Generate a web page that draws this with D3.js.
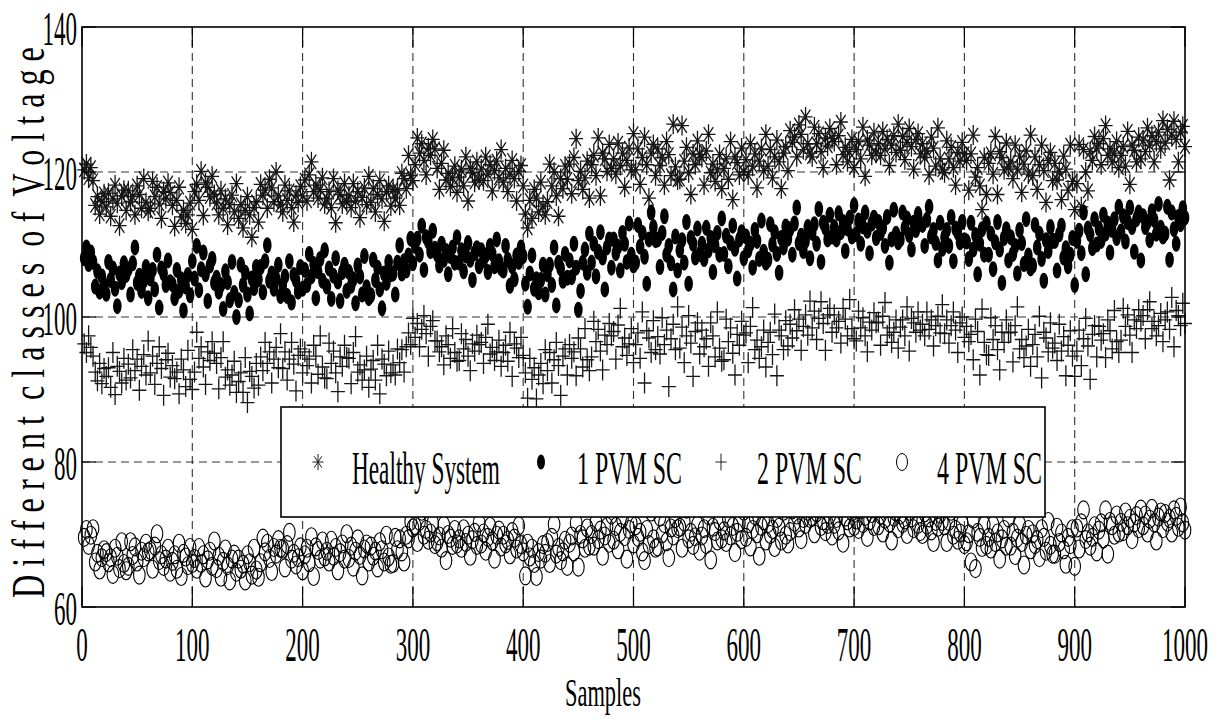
<!DOCTYPE html>
<html>
<head>
<meta charset="utf-8">
<script src="https://cdn.jsdelivr.net/npm/d3@7"></script>
<style>
  html, body { margin: 0; padding: 0; background: #fff; }
  text { font-family: "Liberation Serif", "Times New Roman", serif; fill: #000; }
</style>
</head>
<body>
<script>
// Voltage class per recorded sample (every second sample, 2..1000)
const healthySystem = [
120.3,121.1,119.2,120.6,118.8,115.4,116.6,114.2,115.9,117.0,
115.2,117.1,113.9,116.3,118.2,115.7,112.6,116.7,117.5,114.7,
117.4,115.9,116.6,114.1,118.1,116.9,115.0,119.1,115.8,114.6,
115.0,118.7,116.6,117.9,115.6,113.6,117.3,116.3,118.5,117.2,
115.4,112.5,116.1,117.9,113.8,114.7,112.9,114.1,115.7,112.1,
117.3,118.3,116.1,120.1,114.0,118.5,117.9,116.6,119.4,116.9,
115.7,114.1,117.4,115.0,116.3,112.7,115.5,116.8,114.5,118.4,
113.6,115.5,112.3,114.7,116.6,114.1,111.0,115.1,115.9,113.1,
118.3,116.8,117.5,115.0,119.0,117.8,115.9,120.0,116.7,115.5,
114.5,118.2,116.1,117.4,115.1,113.1,116.8,115.8,118.0,116.7,
118.9,116.0,119.6,121.4,117.3,118.2,116.4,117.6,119.2,115.6,
116.3,117.3,115.1,119.1,113.0,117.5,116.9,115.6,118.4,115.9,
116.7,115.1,118.4,116.0,117.3,113.7,116.5,117.8,115.5,119.4,
115.8,117.7,114.5,116.9,118.8,116.3,113.2,117.3,118.1,115.3,
117.6,116.4,117.5,115.4,119.8,119.1,117.7,122.3,119.5,118.8,
121.0,124.7,122.6,123.9,121.6,119.6,123.3,122.3,124.5,123.2,
120.5,117.6,121.2,123.0,118.9,119.8,118.0,119.2,120.8,117.2,
119.3,120.3,118.1,122.1,116.0,120.5,119.9,118.6,121.4,118.9,
120.4,118.8,122.1,119.7,121.0,117.4,120.2,121.5,119.2,123.1,
118.6,120.5,117.3,119.7,121.6,119.1,116.0,120.1,120.9,118.1,
114.2,112.3,116.1,113.6,117.6,116.4,114.5,118.6,115.3,114.1,
115.9,121.1,118.1,120.0,116.7,113.9,119.1,117.7,120.8,119.0,
121.1,117.0,122.0,124.6,118.8,120.1,117.6,119.2,121.5,116.4,
121.0,122.3,119.5,124.7,116.7,122.6,121.8,120.1,123.8,120.5,
121.8,119.7,124.0,120.9,122.6,117.9,121.6,123.3,120.3,125.3,
120.3,123.2,118.3,122.0,124.8,121.0,116.4,122.6,123.8,119.5,
123.2,120.9,122.0,118.2,124.2,122.4,119.5,126.6,120.7,118.9,
119.0,126.4,121.5,123.4,119.9,116.9,122.5,121.0,124.3,122.4,
122.0,118.2,122.9,125.2,119.9,121.1,118.7,120.3,122.4,117.7,
120.5,121.8,119.0,124.2,116.2,122.1,121.3,119.6,123.3,120.0,
121.7,119.6,123.9,120.8,122.5,117.8,121.5,123.2,120.2,125.2,
120.8,123.1,119.2,122.1,124.4,121.4,117.7,122.6,123.5,120.2,
125.7,124.1,124.8,122.1,126.5,125.2,123.1,127.6,123.9,122.6,
122.1,126.2,123.9,125.3,122.8,120.6,124.7,123.6,126.0,124.6,
124.2,121.0,125.0,126.9,122.4,123.4,121.4,122.8,124.5,120.6,
123.1,124.2,121.8,126.2,119.4,124.4,123.7,122.3,125.4,122.6,
123.9,122.3,125.6,123.2,124.5,120.9,123.7,125.0,122.7,126.6,
123.0,124.9,121.7,124.1,126.0,123.5,120.4,124.5,125.3,122.5,
123.9,122.0,122.9,119.6,124.8,123.3,120.8,126.1,121.8,120.3,
119.9,124.3,121.8,123.4,120.6,118.2,122.7,121.5,124.1,122.5,
121.6,117.5,122.5,125.1,119.3,120.6,118.1,114.8,122.0,116.9,
121.2,122.5,119.7,124.9,116.9,122.8,122.0,120.3,124.0,120.7,
121.4,119.1,123.7,120.4,122.2,117.2,121.1,122.9,119.7,125.1,
119.5,122.1,117.6,121.0,123.7,120.2,115.8,121.6,122.7,118.8,
121.2,118.9,120.0,116.2,122.2,120.4,117.5,123.7,118.7,114.8,
118.4,123.8,115.2,123.1,120.0,117.4,122.8,121.6,124.9,123.3,
123.9,121.0,124.6,126.4,122.3,123.2,121.4,122.6,124.2,120.6,
122.3,123.5,120.8,125.6,118.3,123.7,123.0,121.4,124.8,121.8,
124.4,122.8,126.1,123.7,125.0,121.4,124.2,125.5,123.2,127.1,
124.0,125.9,118.9,125.1,127.0,124.5,121.4,125.5,126.3,123.5
];

const onePvmSc = [
108.1,109.6,107.3,108.9,107.6,104.2,106.3,103.5,105.6,104.4,
103.2,107.6,105.1,106.7,103.9,101.5,106.0,104.8,107.4,105.8,
106.6,103.1,107.4,109.6,104.7,105.7,103.6,105.0,106.9,102.6,
105.3,106.5,103.8,108.6,101.3,106.7,106.0,104.4,107.8,104.8,
104.5,102.6,106.5,103.6,105.2,100.9,104.2,105.8,103.0,107.7,
105.3,109.8,103.7,106.6,108.9,105.9,102.2,107.1,108.0,104.7,
105.4,103.5,104.4,101.1,106.3,104.8,102.3,107.6,103.3,100.0,
102.3,107.2,104.4,106.1,103.1,100.5,105.3,104.0,106.9,105.2,
106.9,103.4,107.7,109.9,105.0,106.0,103.9,105.3,107.2,102.9,
104.4,105.6,102.9,107.7,102.0,105.8,105.1,103.5,106.9,103.9,
106.5,104.4,108.7,105.6,107.3,102.6,106.3,108.0,105.0,109.2,
104.2,106.7,102.5,105.7,108.1,104.9,102.2,106.2,107.2,103.6,
106.2,104.3,105.2,101.9,107.1,105.6,103.1,108.4,104.1,102.6,
103.0,107.9,105.1,106.8,103.8,101.2,106.0,104.7,107.6,105.9,
106.0,103.1,107.5,109.9,106.0,107.7,106.4,108.5,110.8,107.4,
109.8,110.8,108.6,112.6,106.5,111.0,110.4,109.1,111.9,109.4,
108.6,107.1,110.1,107.9,109.1,105.9,108.4,109.6,107.5,111.0,
107.5,109.2,106.3,108.5,110.2,107.9,105.1,108.8,109.5,107.0,
109.2,107.8,108.5,106.2,109.8,108.7,107.0,110.7,107.7,106.7,
106.4,109.8,107.9,104.3,107.0,105.2,108.5,107.6,109.6,108.4,
104.6,101.4,106.0,108.5,103.9,105.2,103.4,105.1,107.2,103.1,
105.9,107.2,104.4,109.6,101.6,107.5,106.7,105.0,108.7,105.4,
107.8,105.5,110.1,106.8,101.0,103.6,107.5,109.3,106.1,111.5,
107.5,110.1,105.6,109.0,111.7,108.2,103.8,109.6,110.7,106.8,
110.7,108.8,109.7,106.4,111.6,110.1,107.6,112.9,108.6,107.1,
107.5,112.7,109.7,111.6,108.3,104.6,110.7,114.4,112.4,110.6,
110.7,106.9,111.6,113.9,108.6,109.8,107.4,103.8,111.1,106.4,
109.2,110.6,107.5,113.1,104.6,110.9,110.1,108.2,112.2,108.7,
110.1,108.0,112.3,109.2,110.9,106.2,109.9,111.6,108.6,113.6,
108.7,111.2,107.0,110.2,112.6,109.4,105.3,110.7,111.7,108.1,
111.1,109.2,110.1,106.8,112.0,110.5,108.0,113.3,109.0,107.5,
107.9,112.8,110.0,111.7,108.7,106.1,110.9,109.6,112.5,110.8,
112.1,108.6,112.9,115.1,110.2,111.2,109.1,110.5,112.4,108.1,
111.6,112.8,110.1,114.9,107.6,113.0,112.3,110.7,114.1,111.1,
112.4,110.7,114.3,111.7,113.1,109.1,112.2,113.7,111.1,115.4,
111.4,113.3,110.1,112.5,114.4,111.9,108.8,112.9,113.7,110.9,
113.1,111.6,112.3,109.8,113.8,107.5,110.7,114.8,111.5,110.3,
110.7,114.4,112.3,113.6,111.3,109.3,113.0,112.0,114.2,112.9,
112.7,109.8,113.4,115.2,111.1,112.0,110.2,107.8,113.0,109.4,
111.0,112.0,109.8,113.8,107.7,112.2,111.6,110.3,113.1,110.6,
110.4,108.0,113.0,109.3,111.3,105.9,110.1,112.1,108.6,112.9,
108.6,111.5,106.6,110.3,113.1,109.3,104.7,110.9,112.1,107.8,
111.0,108.7,109.8,106.0,112.0,110.2,107.3,113.5,108.5,106.7,
107.1,112.7,109.6,111.5,108.0,105.0,110.6,109.1,112.4,110.5,
110.5,106.4,111.4,112.6,108.2,109.5,107.0,108.6,110.9,104.4,
110.5,111.9,108.8,114.4,105.9,112.2,111.4,109.5,113.5,110.0,
112.2,110.5,114.1,111.5,112.9,108.9,112.0,113.5,110.9,115.2,
111.8,113.9,110.4,113.1,115.1,112.4,109.0,113.5,114.4,107.8,
113.9,112.4,113.1,110.6,114.6,113.4,111.5,115.6,112.3,111.1,
111.5,115.2,107.9,114.4,112.1,110.1,113.8,112.8,115.0,113.7
];

const twoPvmSc = [
96.3,95.1,97.4,95.8,94.6,92.4,91.2,93.6,90.8,92.9,
91.8,93.0,90.3,95.1,89.3,93.2,92.5,90.9,94.3,91.3,
93.5,91.6,95.5,92.6,94.2,89.9,93.2,94.8,92.0,96.7,
92.3,94.6,90.7,93.6,95.9,92.9,89.2,94.1,95.0,91.7,
93.3,91.5,92.4,89.4,94.2,92.7,90.4,95.4,91.4,90.0,
92.4,97.9,94.3,95.9,93.1,90.7,95.2,94.0,96.6,95.0,
93.6,90.1,94.4,96.6,91.7,92.7,90.6,92.0,93.9,89.6,
91.1,92.3,89.6,94.4,88.2,92.5,91.8,90.2,93.6,90.6,
94.5,92.6,96.5,93.6,95.2,90.9,94.2,95.8,93.0,97.7,
92.9,95.2,91.3,94.2,96.5,93.5,89.8,94.7,95.6,92.3,
95.2,93.3,94.2,90.9,96.1,94.6,92.1,97.4,93.1,91.6,
91.5,96.4,93.6,95.3,92.3,89.7,94.5,93.2,96.1,94.4,
94.3,90.8,95.1,97.3,92.4,93.4,91.3,92.7,94.6,90.3,
92.8,94.0,91.3,96.1,89.4,94.2,93.5,91.9,95.3,92.3,
93.4,92.0,95.6,93.7,95.5,92.4,95.9,97.8,96.2,99.8,
97.2,99.1,95.9,98.3,100.2,97.7,94.6,98.7,99.5,96.7,
96.7,95.2,95.9,93.4,97.4,96.2,94.3,98.4,95.1,93.9,
94.0,97.7,95.6,96.9,94.6,92.6,96.3,95.3,97.5,96.2,
96.5,93.6,97.2,99.0,94.9,95.8,94.0,95.2,96.8,93.2,
95.1,96.1,93.9,97.9,91.8,96.3,95.7,94.4,97.2,94.7,
92.3,88.8,94.3,91.4,93.0,88.7,92.0,93.6,90.8,95.5,
92.6,95.1,90.9,94.1,96.5,93.3,89.2,94.6,95.6,92.0,
96.2,94.3,95.2,91.9,97.1,95.6,93.1,98.4,94.1,92.6,
94.5,99.4,96.6,98.3,95.3,92.7,97.5,96.2,99.1,97.4,
98.0,94.2,98.9,101.2,95.9,97.1,94.7,96.3,98.4,93.7,
96.2,97.8,94.3,100.7,90.9,98.1,97.1,95.1,99.5,95.5,
97.3,94.9,99.9,96.2,98.2,90.4,97.0,99.0,95.5,101.4,
95.7,98.6,93.7,97.4,100.2,96.4,91.8,98.0,99.2,94.9,
98.2,95.9,97.0,93.2,99.2,97.4,94.5,100.7,95.7,93.9,
94.1,99.7,96.6,98.5,95.0,92.0,97.6,96.1,99.4,97.5,
97.8,93.7,98.7,101.3,95.5,96.8,94.3,95.9,98.2,93.1,
96.5,97.9,94.8,100.4,91.9,98.2,97.4,95.5,99.5,96.0,
99.0,97.1,101.0,98.1,99.7,95.4,98.7,100.3,97.5,102.2,
98.5,100.8,96.9,99.8,102.1,99.1,95.4,100.3,101.2,97.9,
100.3,98.5,99.4,96.4,101.2,99.7,97.4,102.4,98.4,97.0,
96.7,100.8,98.5,99.9,97.4,95.2,99.3,98.2,100.6,99.2,
99.3,96.1,100.1,102.0,97.5,98.5,96.5,97.9,99.6,95.7,
98.6,99.6,97.4,101.4,95.3,99.8,99.2,97.9,100.7,98.2,
99.0,97.4,100.7,98.3,99.6,96.0,98.8,100.1,97.8,101.7,
97.7,99.6,96.4,98.8,100.7,98.2,95.1,99.2,100.0,97.2,
98.7,96.6,97.6,94.1,99.7,98.0,92.0,101.1,96.5,94.8,
94.7,99.9,96.9,98.8,95.5,92.7,97.9,96.5,99.6,97.8,
97.9,93.8,98.8,101.4,95.6,96.9,94.4,96.0,98.3,93.2,
96.2,97.6,94.5,100.1,91.6,97.9,97.1,95.2,99.2,95.7,
96.4,94.0,99.0,95.3,97.3,91.9,96.1,98.1,94.6,91.8,
95.3,98.2,93.3,97.0,99.8,96.0,91.4,97.6,98.8,94.5,
98.7,96.8,97.7,94.4,99.6,98.1,95.6,100.9,96.6,95.1,
96.8,101.2,98.7,100.3,97.5,95.1,99.6,98.4,101.0,99.4,
100.2,97.0,101.0,102.1,98.4,99.4,97.4,98.8,100.5,96.6,
99.6,100.7,98.3,102.7,95.9,100.9,100.2,98.8,101.9,99.1
];

const fourPvmSc = [
69.6,70.7,68.5,69.9,70.8,66.2,67.4,65.1,66.8,67.9,
67.5,66.1,66.8,64.5,68.1,67.0,65.3,69.0,66.0,65.0,
65.6,69.0,67.1,68.3,66.2,64.4,67.7,66.8,68.8,67.6,
67.8,65.2,68.4,70.1,66.4,67.2,65.6,66.6,68.1,64.8,
66.3,67.2,65.2,68.8,64.2,67.4,66.9,65.7,68.2,66.0,
66.7,65.2,68.2,66.0,67.2,64.0,66.5,67.7,65.6,69.1,
65.3,67.0,64.1,66.3,68.0,65.7,63.6,66.6,67.3,64.8,
66.6,65.2,65.9,63.6,67.2,66.1,64.4,68.1,65.1,64.1,
66.1,69.5,67.6,68.8,66.7,64.9,68.2,67.3,69.3,68.1,
68.0,65.4,68.6,70.3,66.6,67.4,65.8,66.8,68.3,65.0,
67.2,68.1,66.1,69.7,64.2,68.3,67.8,66.6,69.1,66.9,
67.7,66.2,69.2,67.0,68.2,65.0,67.5,68.7,66.6,70.1,
66.7,68.4,65.5,67.7,69.4,67.1,64.3,68.0,68.7,66.2,
68.4,67.0,67.7,65.4,69.0,67.9,66.2,69.9,66.9,65.9,
66.0,69.6,67.9,69.4,67.6,66.2,69.9,69.4,71.8,70.9,
71.2,68.9,71.8,73.2,69.9,70.7,69.2,70.2,71.5,68.6,
69.0,69.8,68.1,71.3,66.4,70.0,69.5,68.5,70.7,68.7,
69.4,68.1,70.8,68.9,69.9,67.0,69.3,70.3,68.5,71.6,
68.7,70.2,67.7,69.6,71.1,69.1,66.6,69.9,70.6,68.3,
69.9,68.7,69.2,67.2,70.4,69.5,68.0,71.2,68.6,67.6,
64.3,68.8,66.9,68.1,66.0,64.2,67.5,66.6,68.6,67.4,
68.9,66.0,69.6,71.4,67.3,68.2,66.4,67.6,69.2,65.6,
68.8,69.8,67.6,71.6,65.5,70.0,69.4,68.1,70.9,68.4,
70.0,68.4,71.7,69.3,70.6,67.0,69.8,71.1,68.8,72.7,
69.2,71.1,67.9,70.3,72.2,69.7,66.6,70.7,71.5,68.7,
71.2,69.6,70.3,67.6,66.4,70.7,68.6,73.1,69.4,68.1,
68.3,72.4,70.1,71.5,69.0,66.8,70.9,69.8,72.2,70.8,
71.0,68.1,71.7,73.5,69.4,70.3,68.5,69.7,71.3,67.7,
69.8,70.8,68.6,72.6,66.5,71.0,70.4,69.1,71.9,69.4,
70.5,68.9,72.2,69.8,71.1,67.5,70.3,71.6,69.3,73.2,
69.6,71.5,68.3,70.7,72.6,70.1,67.0,71.1,71.9,69.1,
71.5,70.0,70.7,68.2,72.2,71.0,69.1,73.2,69.9,68.7,
70.4,73.4,71.7,72.7,70.9,69.3,72.2,71.4,73.2,72.2,
72.4,70.1,73.0,73.6,71.1,71.9,70.4,71.4,72.7,69.8,
71.4,72.2,70.5,73.7,68.8,72.4,71.9,70.9,73.1,71.1,
72.0,70.7,73.4,71.5,72.5,69.6,71.9,72.9,71.1,73.6,
71.2,72.7,70.2,72.1,73.6,71.6,69.1,72.4,73.1,70.8,
72.7,71.5,72.0,70.0,73.2,72.3,70.8,73.7,71.4,70.4,
70.0,73.0,71.3,72.3,70.5,68.9,71.8,71.0,72.8,71.8,
71.2,68.9,71.8,73.2,69.9,70.7,69.2,70.2,71.5,68.6,
69.0,70.1,66.2,72.1,65.3,70.3,69.6,68.2,71.3,68.5,
69.6,68.0,71.3,68.9,70.2,66.6,69.4,70.7,68.4,72.3,
68.4,70.3,67.1,69.5,71.4,68.9,65.8,69.9,70.7,67.9,
70.1,68.6,69.3,66.8,70.8,69.6,67.7,71.8,68.5,67.3,
67.3,71.0,68.9,70.2,67.9,65.9,69.6,68.6,70.8,65.6,
70.9,68.0,71.6,73.4,69.3,70.2,68.4,69.6,71.2,67.6,
70.6,71.6,69.4,73.4,67.3,71.8,71.2,69.9,72.7,70.2,
71.7,70.4,73.1,71.2,72.2,69.3,71.6,72.6,70.8,73.5,
71.2,72.7,70.2,72.1,73.6,71.6,69.1,72.4,73.1,70.8,
72.9,71.7,72.2,70.2,73.4,72.5,71.0,73.8,71.6,70.6
];

const seriesNames = ["Healthy System", "1 PVM SC", "2 PVM SC", "4 PVM SC"];
const sampleStep = 2;
const xTicks = [0, 100, 200, 300, 400, 500, 600, 700, 800, 900, 1000];
const yTicks = [60, 80, 100, 120, 140];
const xLabel = "Samples";
const yLabel = "D i f f e r e n t  c l a s s e s  o f  V o l t a g e";

const W = 1223, H = 726;
const plot = { left: 82, right: 1185, top: 27, bottom: 607 };

const svg = d3.select("body").append("svg")
  .attr("width", W).attr("height", H)
  .attr("viewBox", `0 0 ${W} ${H}`);

const x = d3.scaleLinear().domain([0, 1000]).range([plot.left, plot.right]);
const y = d3.scaleLinear().domain([60, 140]).range([plot.bottom, plot.top]);

// dashed grid
const grid = svg.append("g").attr("stroke", "#333").attr("stroke-width", 1.1)
  .attr("stroke-dasharray", "8,5").attr("fill", "none");
grid.selectAll("line.gx").data(xTicks.filter(t => t > 0 && t < 1000)).join("line")
  .attr("class", "gx")
  .attr("x1", d => x(d)).attr("x2", d => x(d))
  .attr("y1", plot.top).attr("y2", plot.bottom);
grid.selectAll("line.gy").data(yTicks.filter(t => t > 60 && t < 140)).join("line")
  .attr("class", "gy")
  .attr("x1", plot.left).attr("x2", plot.right)
  .attr("y1", d => y(d)).attr("y2", d => y(d));

// marker shapes (tall, narrow)
const starPath = "M0,-10V10M-7,0H7M-4.8,-7.2L4.8,7.2M-4.8,7.2L4.8,-7.2";
const plusPath = "M0,-10.5V10.5M-7,0H7";

const sample = (d, i) => x((i + 1) * sampleStep);

// Healthy System: asterisks
svg.append("g").attr("stroke", "#151515").attr("stroke-width", 1.3).attr("fill", "none")
  .selectAll("path").data(healthySystem).join("path")
  .attr("transform", (d, i) => `translate(${sample(d, i)},${y(d)})`)
  .attr("d", starPath);

// 1 PVM SC: filled dots
svg.append("g").attr("fill", "#000")
  .selectAll("ellipse").data(onePvmSc).join("ellipse")
  .attr("cx", sample).attr("cy", d => y(d))
  .attr("rx", 4.3).attr("ry", 8);

// 2 PVM SC: plus signs
svg.append("g").attr("stroke", "#151515").attr("stroke-width", 1.3).attr("fill", "none")
  .selectAll("path").data(twoPvmSc).join("path")
  .attr("transform", (d, i) => `translate(${sample(d, i)},${y(d)})`)
  .attr("d", plusPath);

// 4 PVM SC: open circles
svg.append("g").attr("stroke", "#000").attr("stroke-width", 1.1).attr("fill", "none")
  .selectAll("ellipse").data(fourPvmSc).join("ellipse")
  .attr("cx", sample).attr("cy", d => y(d))
  .attr("rx", 5.8).attr("ry", 9);

// axes box with inward ticks on all sides
const axes = svg.append("g").attr("stroke", "#000").attr("fill", "none");
axes.append("rect")
  .attr("x", plot.left).attr("y", plot.top)
  .attr("width", plot.right - plot.left).attr("height", plot.bottom - plot.top)
  .attr("stroke-width", 1.6);
const tickLenX = 20, tickLenY = 14;
xTicks.forEach(t => {
  axes.append("line").attr("x1", x(t)).attr("x2", x(t))
    .attr("y1", plot.bottom).attr("y2", plot.bottom - tickLenX).attr("stroke-width", 1.2);
  axes.append("line").attr("x1", x(t)).attr("x2", x(t))
    .attr("y1", plot.top).attr("y2", plot.top + tickLenX).attr("stroke-width", 1.2);
});
yTicks.forEach(t => {
  axes.append("line").attr("x1", plot.left).attr("x2", plot.left + tickLenY)
    .attr("y1", y(t)).attr("y2", y(t)).attr("stroke-width", 1.2);
  axes.append("line").attr("x1", plot.right).attr("x2", plot.right - tickLenY)
    .attr("y1", y(t)).attr("y2", y(t)).attr("stroke-width", 1.2);
});

// condensed text: measured at its natural size, then squeezed horizontally
function label(g, str, px, py, size, width, anchor, rotate) {
  const t = g.append("text")
    .attr("font-size", size)
    .style("white-space", "pre")
    .text(str);
  const natural = t.node().getComputedTextLength();
  const sx = width / natural;
  const shift = anchor === "middle" ? -width / 2 : anchor === "end" ? -width : 0;
  if (rotate) {
    t.attr("transform", `translate(${px},${py}) rotate(${rotate}) translate(${shift},0) scale(${sx},1)`);
  } else {
    t.attr("transform", `translate(${px + shift},${py}) scale(${sx},1)`);
  }
  return t;
}

const labels = svg.append("g");
const digitW = 11.5;
xTicks.forEach(t => {
  const s = String(t);
  label(labels, s, x(t), 661, 48, digitW * s.length, "middle");
});
yTicks.forEach(t => {
  const s = String(t);
  label(labels, s, 77, y(t) + 18, 48, digitW * s.length, "end");
});

label(labels, xLabel, 603, 706, 40, 76, "middle");
label(labels, yLabel, 44, 598, 46, 551, "start", -90);

// legend
const lg = svg.append("g");
lg.append("rect").attr("x", 281).attr("y", 407).attr("width", 764).attr("height", 110)
  .attr("fill", "#fff").attr("stroke", "#000").attr("stroke-width", 1.6);
const legendY = 462;
const legendItems = [
  { name: seriesNames[0], mx: 318, tx: 352, tw: 148, kind: "star" },
  { name: seriesNames[1], mx: 541, tx: 577, tw: 105, kind: "dot" },
  { name: seriesNames[2], mx: 721, tx: 757, tw: 105, kind: "plus" },
  { name: seriesNames[3], mx: 902, tx: 937, tw: 105, kind: "circle" }
];
legendItems.forEach(it => {
  if (it.kind === "star") {
    lg.append("path").attr("d", starPath).attr("transform", `translate(${it.mx},${legendY}) scale(0.8)`)
      .attr("stroke", "#151515").attr("stroke-width", 1.2).attr("fill", "none");
  } else if (it.kind === "dot") {
    lg.append("ellipse").attr("cx", it.mx).attr("cy", legendY).attr("rx", 4).attr("ry", 7.5).attr("fill", "#000");
  } else if (it.kind === "plus") {
    lg.append("path").attr("d", plusPath).attr("transform", `translate(${it.mx},${legendY}) scale(0.8)`)
      .attr("stroke", "#151515").attr("stroke-width", 1.2).attr("fill", "none");
  } else {
    lg.append("ellipse").attr("cx", it.mx).attr("cy", legendY).attr("rx", 5.5).attr("ry", 8.5)
      .attr("stroke", "#000").attr("fill", "none");
  }
  label(lg, it.name, it.tx, 484, 46, it.tw, "start");
});
</script>
</body>
</html>
